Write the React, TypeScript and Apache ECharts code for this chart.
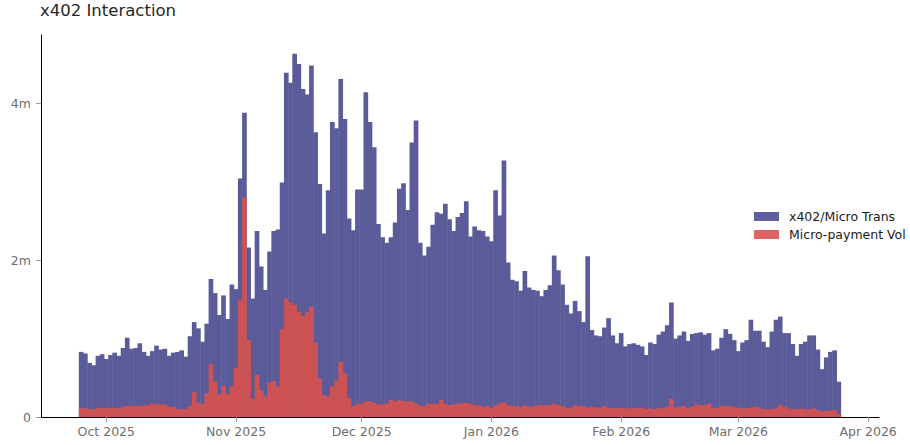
import React, { useEffect, useRef } from "react";
import * as echarts from "echarts";

const DAY = 86400000;
const START = Date.UTC(2025, 8, 25); // first bar: 25 Sep 2025

// x402/Micro Trans (millions), daily from 25 Sep 2025
const transM = [
  0.83, 0.81, 0.69, 0.66, 0.78, 0.80, 0.74, 0.79, 0.82, 0.78,
  0.88, 1.01, 0.87, 0.88, 0.94, 0.83, 0.78, 0.84, 0.91, 0.86,
  0.87, 0.78, 0.82, 0.83, 0.85, 0.77, 1.03, 1.21, 1.13, 0.96,
  1.19, 1.76, 1.58, 1.30, 1.55, 1.25, 1.69, 1.63, 3.04, 3.88,
  2.16, 1.51, 2.37, 1.92, 1.62, 2.11, 2.37, 2.39, 2.99, 4.39,
  4.26, 4.63, 4.50, 4.18, 4.11, 4.48, 3.63, 2.97, 2.34, 2.89,
  3.76, 3.68, 4.31, 3.80, 2.53, 2.38, 2.90, 2.90, 4.14, 3.76,
  3.44, 2.46, 2.29, 2.22, 2.29, 2.48, 2.91, 2.98, 2.64, 3.50,
  3.78, 2.22, 2.06, 2.17, 2.45, 2.61, 2.59, 2.72, 2.52, 2.37,
  2.55, 2.60, 2.75, 2.30, 2.43, 2.38, 2.37, 2.30, 2.24, 2.89,
  2.57, 3.27, 1.97, 1.75, 1.73, 1.61, 1.86, 1.65, 1.62, 1.61,
  1.54, 1.62, 1.68, 2.06, 1.87, 1.69, 1.43, 1.32, 1.48, 1.35,
  1.21, 2.05, 1.11, 1.04, 1.03, 1.14, 1.26, 1.04, 0.94, 1.07,
  0.90, 0.93, 0.94, 0.92, 0.90, 0.79, 0.95, 0.93, 1.05, 1.09,
  1.17, 1.46, 1.00, 1.04, 1.09, 0.97, 1.06, 1.07, 1.08, 1.05,
  1.07, 0.85, 0.87, 1.01, 1.12, 1.06, 0.98, 0.84, 0.95, 0.98,
  1.24, 1.10, 1.10, 0.96, 0.89, 1.09, 1.24, 1.28, 1.07, 1.07,
  0.93, 0.78, 0.93, 0.96, 1.04, 1.04, 0.86, 0.61, 0.76, 0.83,
  0.85, 0.45,
];

// Micro-payment Vol (millions), same days
const volM = [
  0.12, 0.11, 0.10, 0.10, 0.11, 0.12, 0.11, 0.12, 0.12, 0.11,
  0.13, 0.14, 0.14, 0.14, 0.14, 0.15, 0.15, 0.17, 0.16, 0.16,
  0.16, 0.13, 0.13, 0.10, 0.10, 0.10, 0.14, 0.32, 0.18, 0.17,
  0.30, 0.67, 0.45, 0.29, 0.40, 0.29, 0.39, 0.63, 1.49, 2.80,
  0.98, 0.23, 0.54, 0.34, 0.26, 0.44, 0.46, 0.39, 1.12, 1.51,
  1.46, 1.43, 1.34, 1.29, 1.34, 1.41, 0.95, 0.49, 0.28, 0.26,
  0.39, 0.46, 0.70, 0.55, 0.24, 0.14, 0.17, 0.17, 0.20, 0.20,
  0.18, 0.16, 0.16, 0.17, 0.22, 0.20, 0.22, 0.20, 0.20, 0.20,
  0.17, 0.14, 0.14, 0.17, 0.17, 0.17, 0.22, 0.17, 0.15, 0.16,
  0.17, 0.17, 0.18, 0.17, 0.15, 0.15, 0.13, 0.14, 0.12, 0.15,
  0.17, 0.19, 0.15, 0.14, 0.14, 0.13, 0.15, 0.13, 0.14, 0.15,
  0.15, 0.15, 0.15, 0.17, 0.15, 0.14, 0.11, 0.12, 0.15, 0.14,
  0.14, 0.12, 0.13, 0.12, 0.12, 0.14, 0.12, 0.11, 0.11, 0.12,
  0.11, 0.11, 0.11, 0.12, 0.12, 0.10, 0.11, 0.10, 0.11, 0.12,
  0.13, 0.23, 0.12, 0.13, 0.14, 0.11, 0.13, 0.16, 0.15, 0.15,
  0.17, 0.11, 0.12, 0.14, 0.14, 0.14, 0.13, 0.12, 0.11, 0.11,
  0.12, 0.13, 0.12, 0.10, 0.10, 0.10, 0.11, 0.16, 0.13, 0.11,
  0.10, 0.10, 0.11, 0.10, 0.10, 0.11, 0.09, 0.07, 0.08, 0.08,
  0.09, 0.04,
];

const monthTicks = [
  "2025-10-01", "2025-11-01", "2025-12-01", "2026-01-01",
  "2026-02-01", "2026-03-01", "2026-04-01",
];
const yTicks = [0, 2, 4];
const MONTHS = ["Jan", "Feb", "Mar", "Apr", "May", "Jun", "Jul", "Aug", "Sep", "Oct", "Nov", "Dec"];

const FONT = "DejaVu Sans";

export default function App() {
  const ref = useRef<HTMLDivElement>(null);
  useEffect(() => {
    const chart = echarts.init(ref.current!, null, { renderer: "svg" });
    const dates = transM.map((_, i) => START + i * DAY);
    const xMin = START - 9.6 * DAY;
    const xMax = dates[dates.length - 1] + 9.6 * DAY;
    const gridLeft = 41;
    const gridRight = 31;
    const gridW = 910 - gridLeft - gridRight;
    const bw = (gridW * DAY) / (xMax - xMin) + 0.5;
    const tickVals = monthTicks.map((s) => Date.parse(s + "T00:00:00Z"));

    chart.setOption({
      animation: false,
      backgroundColor: "#ffffff",
      title: {
        text: "x402 Interaction",
        left: 40,
        top: 2,
        padding: 0,
        textStyle: { fontFamily: FONT, fontSize: 16.5, fontWeight: "normal", color: "#262626" },
      },
      legend: {
        orient: "vertical",
        left: 749,
        top: 205,
        itemWidth: 25,
        itemHeight: 9,
        itemGap: 5,
        icon: "rect",
        textStyle: { fontFamily: FONT, fontSize: 12.5, color: "#1a1a1a", padding: [0, 0, 0, 5] },
        itemStyle: { borderWidth: 0 },
        data: [
          { name: "x402/Micro Trans", itemStyle: { color: "#5f5fa0", borderWidth: 0 } },
          { name: "Micro-payment Vol", itemStyle: { color: "#e06262", borderWidth: 0 } },
        ],
      },
      grid: { left: gridLeft, right: gridRight, top: 35, bottom: 28, containLabel: false },
      xAxis: {
        type: "value",
        min: xMin,
        max: xMax,
        scale: true,
        axisLine: { show: true, onZero: false, lineStyle: { color: "#000", width: 1 } },
        axisTick: {
          show: true,
          length: 5,
          lineStyle: { color: "#999" },
          customValues: tickVals,
        },
        splitLine: { show: false },
        axisLabel: {
          customValues: tickVals,
          margin: 8,
          fontFamily: FONT,
          fontSize: 12.5,
          color: "#6e6e6e",
          hideOverlap: false,
          formatter: (v: number) => {
            const d = new Date(v);
            return MONTHS[d.getUTCMonth()] + " " + d.getUTCFullYear();
          },
        },
      },
      yAxis: {
        type: "value",
        min: 0,
        max: 4.87,
        axisLine: { show: true, lineStyle: { color: "#000", width: 1 } },
        axisTick: { show: true, length: 5, lineStyle: { color: "#999" }, customValues: yTicks },
        splitLine: { show: false },
        axisLabel: {
          customValues: yTicks,
          margin: 10,
          fontFamily: FONT,
          fontSize: 12.5,
          color: "#6e6e6e",
          formatter: (v: number) => (v === 0 ? "0" : v + "m"),
        },
      },
      series: [
        {
          name: "x402/Micro Trans",
          type: "bar",
          barWidth: bw,
          barGap: "-100%",
          data: dates.map((d, i) => [d, transM[i]]),
          itemStyle: { color: "#5b5b9a" },
        },
        {
          name: "Micro-payment Vol",
          type: "bar",
          barWidth: bw,
          barGap: "-100%",
          data: dates.map((d, i) => [d, volM[i]]),
          itemStyle: { color: "#cc5253" },
        },
      ],
    });
    return () => chart.dispose();
  }, []);

  return (
    <div
      ref={ref}
      style={{ position: "fixed", left: 0, top: 0, width: 910, height: 445 }}
    />
  );
}
